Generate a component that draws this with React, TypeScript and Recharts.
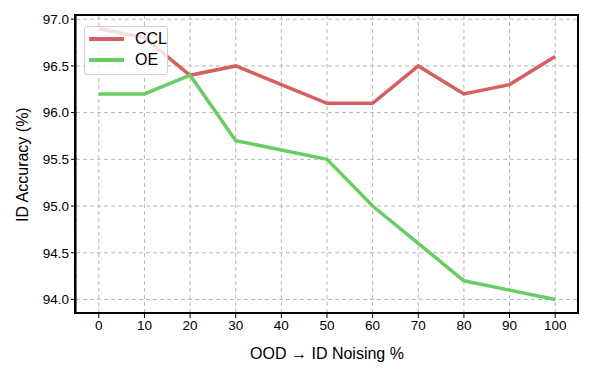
import { LineChart, Line, XAxis, YAxis, CartesianGrid, Legend } from 'recharts'

const noising = [0, 10, 20, 30, 40, 50, 60, 70, 80, 90, 100]
const ccl = [96.9, 96.8, 96.4, 96.5, 96.3, 96.1, 96.1, 96.5, 96.2, 96.3, 96.6]
const oe = [96.2, 96.2, 96.4, 95.7, 95.6, 95.5, 95.0, 94.6, 94.2, 94.1, 94.0]
const yTicks = [94.0, 94.5, 95.0, 95.5, 96.0, 96.5, 97.0]

const data = noising.map((n, i) => ({ n, ccl: ccl[i], oe: oe[i] }))

const FONT = '"Liberation Sans", Arial, sans-serif'
const RED = '#d65f5f'
const GREEN = '#6acc64'

const LegendBox = () => (
  <div
    style={{
      position: 'absolute',
      left: 84,
      top: 26,
      width: 82,
      height: 47,
      background: 'rgba(255,255,255,0.8)',
      border: '1px solid #d0d0d0',
      borderRadius: 3,
      fontFamily: FONT,
      fontSize: 16,
    }}
  >
    {[
      ['CCL', RED],
      ['OE', GREEN],
    ].map(([name, color], i) => (
      <div key={name} style={{ position: 'absolute', left: 4, top: 3 + i * 21, display: 'flex', alignItems: 'center' }}>
        <span style={{ display: 'inline-block', width: 35, height: 3.5, background: color, marginRight: 11 }} />
        <span>{name}</span>
      </div>
    ))}
  </div>
)

export default function App() {
  return (
    <div style={{ position: 'absolute', left: 0, top: 0, width: 598, height: 374, background: '#fff' }}>
      <LineChart width={598} height={374} data={data} margin={{ top: 15, right: 20, left: 0, bottom: 0 }}>
        <CartesianGrid stroke="#b8b8b8" strokeDasharray="4 3" />
        <XAxis
          dataKey="n"
          type="number"
          domain={[-5, 105]}
          ticks={noising}
          height={61}
          stroke="#000"
          tick={{ fill: '#000', fontSize: 13.5, fontFamily: FONT }}
          tickSize={5}
          label={{ value: 'OOD → ID Noising %', position: 'insideBottom', offset: 15, fill: '#000', fontSize: 16, fontFamily: FONT }}
        />
        <YAxis
          type="number"
          domain={[93.855, 97.045]}
          ticks={yTicks}
          width={76}
          stroke="#000"
          tickFormatter={(v: number) => v.toFixed(1)}
          tick={{ fill: '#000', fontSize: 13.5, fontFamily: FONT }}
          tickSize={5}
          label={{ value: 'ID Accuracy (%)', angle: -90, position: 'insideLeft', offset: 22, dy: 58, fill: '#000', fontSize: 16, fontFamily: FONT }}
        />
        <Line dataKey="ccl" name="CCL" stroke={RED} strokeWidth={3.5} dot={false} isAnimationActive={false} />
        <Line dataKey="oe" name="OE" stroke={GREEN} strokeWidth={3.5} dot={false} isAnimationActive={false} />
        <Legend content={() => null} />
      </LineChart>
      <div
        style={{
          position: 'absolute',
          left: 74,
          top: 14,
          width: 505,
          height: 300,
          boxSizing: 'border-box',
          border: '2px solid #000',
          pointerEvents: 'none',
        }}
      />
      <LegendBox />
    </div>
  )
}
